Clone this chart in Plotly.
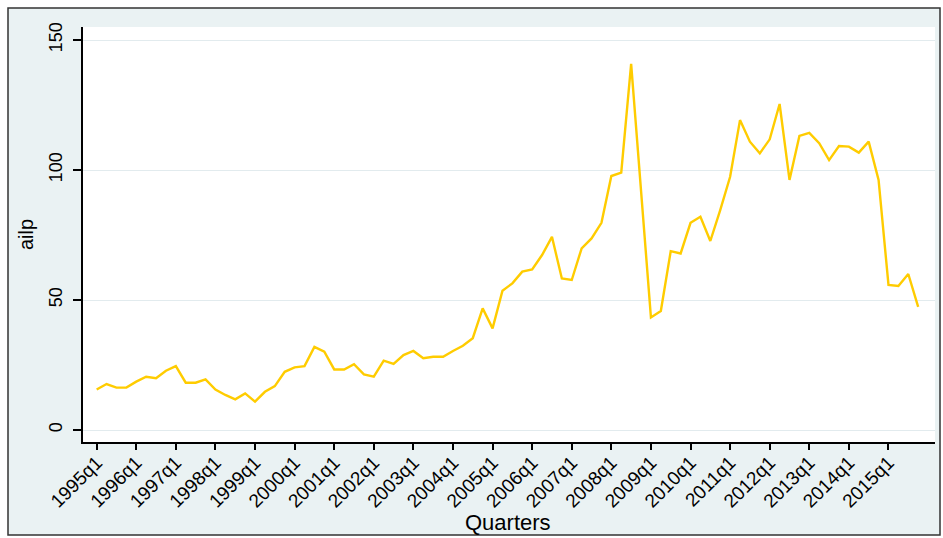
import plotly.graph_objects as go

# Quarterly values of ailp, 1995q1 .. 2015q4
years = list(range(1995, 2016))
quarters = [f"{y}q{q}" for y in years for q in (1, 2, 3, 4)]
ailp = [
    15.6, 17.7, 16.3, 16.3, 18.6, 20.5, 19.9, 22.8,
    24.6, 18.2, 18.2, 19.5, 15.6, 13.5, 11.8, 14.1,
    10.9, 14.7, 16.9, 22.4, 24.1, 24.6, 32.0, 30.1,
    23.3, 23.3, 25.3, 21.4, 20.5, 26.7, 25.4, 28.8,
    30.4, 27.6, 28.2, 28.2, 30.4, 32.4, 35.3, 46.8,
    39.1, 53.6, 56.4, 60.9, 61.8, 67.3, 74.3, 58.3,
    57.7, 69.9, 73.7, 79.7, 97.7, 99.0, 140.8, 93.0,
    43.3, 45.8, 68.8, 67.9, 79.7, 82.0, 72.7, 84.6,
    97.4, 119.2, 110.9, 106.4, 111.8, 125.4, 96.2, 113.1,
    114.3, 110.3, 103.8, 109.2, 109.0, 106.7, 110.9, 96.2,
    55.8, 55.4, 60.0, 47.4,
]
tick_labels = [f"{y}q1" for y in years]
y_ticks = [0, 50, 100, 150]

W, H = 943, 538
L, R, T, B = 83, 8, 27, 96
pw, ph = W - L - R, H - T - B


def px_x(p):
    return (p - L) / pw


def px_y(p):
    return (H - B - p) / ph


fig = go.Figure()
fig.add_trace(go.Scatter(
    x=quarters, y=ailp, mode="lines",
    line=dict(color="#FFCC00", width=2.4),
    hoverinfo="x+y", showlegend=False,
))

font_fam = "Liberation Sans, Arial, sans-serif"

fig.update_layout(
    width=W, height=H,
    margin=dict(l=L, r=R, t=T, b=B, pad=0, autoexpand=False),
    paper_bgcolor="white",
    plot_bgcolor="white",
    font=dict(family=font_fam, color="#000000", size=18),
    shapes=[
        dict(type="rect", xref="paper", yref="paper",
             x0=px_x(8), x1=px_x(940), y0=px_y(535), y1=px_y(8),
             fillcolor="#EAF2F3", line=dict(color="#333333", width=1.5),
             layer="below"),
        dict(type="rect", xref="paper", yref="paper",
             x0=0, x1=1, y0=0, y1=1,
             fillcolor="white", line=dict(width=0), layer="below"),
    ],
    annotations=[
        dict(text="Quarters", xref="paper", yref="paper",
             x=px_x(508), y=px_y(522), xanchor="center", yanchor="middle",
             showarrow=False, font=dict(size=22, family=font_fam)),
    ],
    xaxis=dict(
        type="category",
        range=[-1.38, 84.7],
        automargin=False,
        tickmode="array",
        tickvals=tick_labels,
        ticktext=tick_labels,
        tickangle=-45,
        ticks="outside", ticklen=6, tickwidth=1.5, tickcolor="#000000",
        showline=True, linecolor="#000000", linewidth=2,
        showgrid=False, zeroline=False,
        tickfont=dict(size=19),
        ticklabelstandoff=-6,
    ),
    yaxis=dict(
        range=[-4.6, 155],
        automargin=False,
        tickmode="array",
        tickvals=y_ticks,
        ticktext=[str(v) for v in y_ticks],
        tickangle=-90,
        ticks="outside", ticklen=8, tickwidth=1.5, tickcolor="#000000",
        showline=True, linecolor="#000000", linewidth=2,
        showgrid=True, gridcolor="#E2EBEE", gridwidth=1.3,
        zeroline=False,
        tickfont=dict(size=18),
        ticklabelstandoff=4,
        title=dict(text="ailp", font=dict(size=20), standoff=7),
    ),
)

fig.write_html(
    "out.html",
    config={"displayModeBar": False},
    post_script="document.body.style.margin='0';document.body.style.overflow='hidden';",
)
